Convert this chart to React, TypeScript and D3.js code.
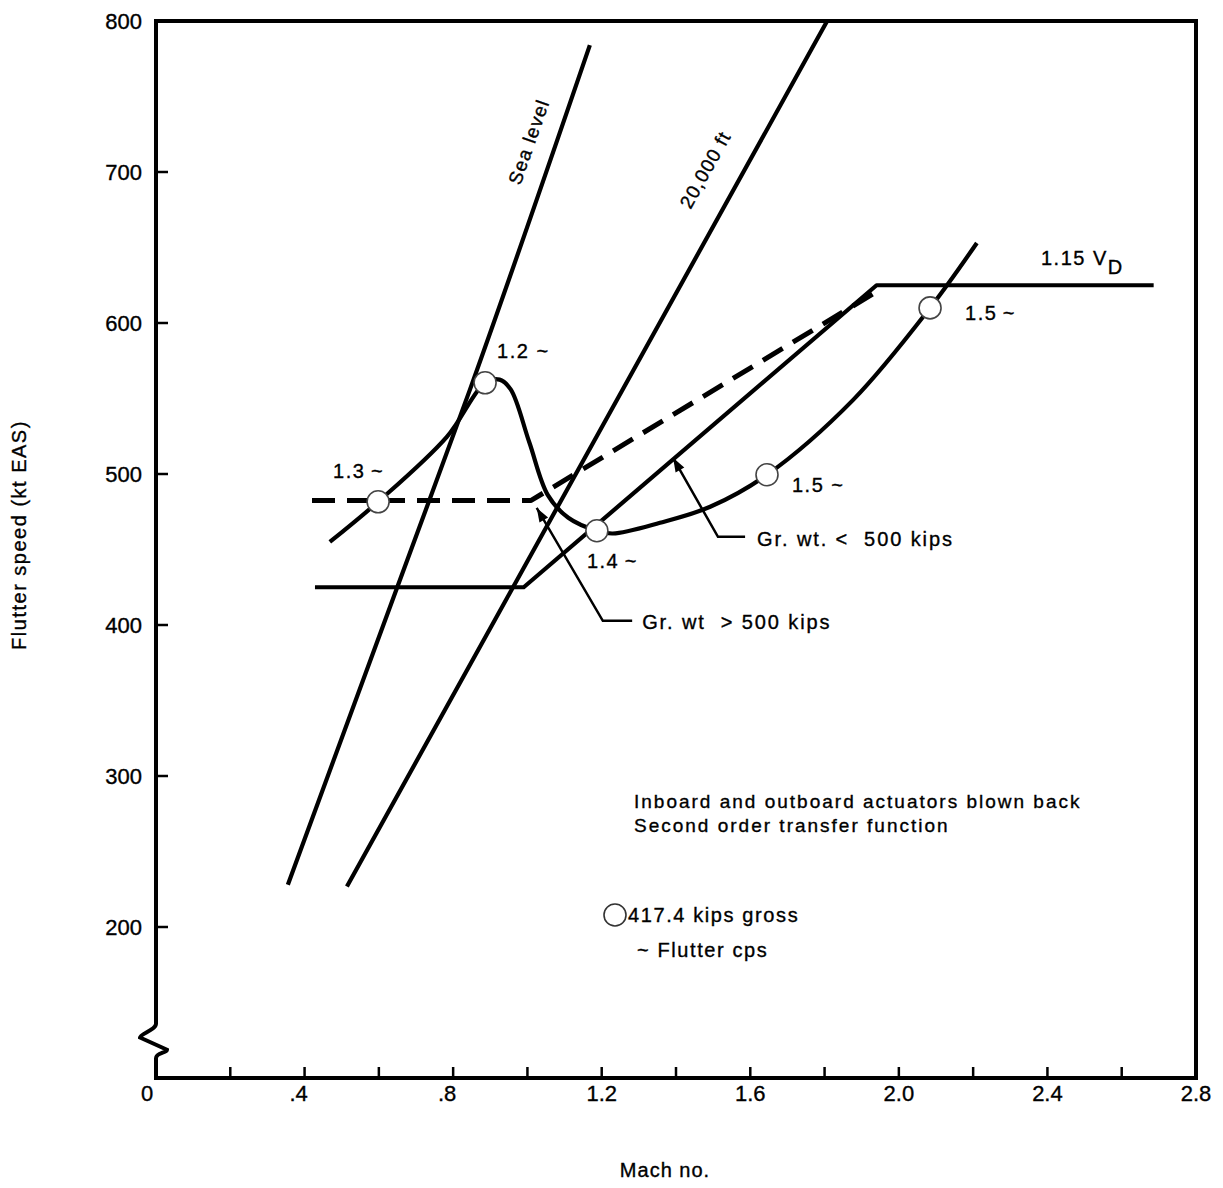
import React from "react";
import * as d3 from "d3";

// ---- Data ----
const xTicksMinor = [0.2, 0.4, 0.6, 0.8, 1.0, 1.2, 1.4, 1.6, 1.8, 2.0, 2.2, 2.4, 2.6];
const xTickLabels = ["0", ".4", ".8", "1.2", "1.6", "2.0", "2.4", "2.8"];
const xTickLabelValues = [0, 0.4, 0.8, 1.2, 1.6, 2.0, 2.4, 2.8];
const yTicks = [200, 300, 400, 500, 600, 700];
const yTickLabels = [200, 300, 400, 500, 600, 700, 800];

const seaLevel: [number, number][] = [
  [0.355, 228], [0.649, 424.7], [0.845, 555.7], [1.168, 784],
];
const alt20k: [number, number][] = [
  [0.514, 226.8], [0.953, 421.4], [1.807, 800],
];
const grWtLess: [number, number][] = [
  [0.428, 425], [0.99, 425], [1.94, 625], [2.686, 625],
];
const grWtMore: [number, number][] = [
  [0.42, 482.5], [1.01, 482.5], [1.935, 620],
];
const flutterCurve: [number, number][] = [
  [0.468, 455], [0.598, 481.6], [0.783, 524.6], [0.886, 560.4], [0.925, 562.5],
  [0.955, 556], [1.005, 521], [1.055, 486], [1.11, 471], [1.187, 462.4], [1.23, 460.6],
  [1.357, 467.7], [1.492, 478.3], [1.645, 499.5], [1.877, 549.1], [2.084, 610], [2.21, 653],
];
const circlePts: [number, number][] = [
  [0.598, 481.6], [0.886, 560.4], [1.187, 462.4], [1.645, 499.5], [2.084, 610],
];
const circleLabels = ["1.3\u2009~", "1.2 ~", "1.4\u2009~", "1.5 ~", "1.5\u2009~"];
const ptrMore: [number, number][] = [[1.025, 477.5], [1.203, 402.8], [1.282, 402.8]];
const ptrLess: [number, number][] = [[1.392, 510.7], [1.513, 458.4], [1.586, 458.4]];

// ---- Layout / style ----
const W = 1223, H = 1188;
const FONT = "'Liberation Sans', Arial, Helvetica, sans-serif";
const labelOffsets: [number, number][] = [[-45, -24], [12, -25], [-10, 37], [25, 17], [35, 12]];

export default function App() {
  const x = d3.scaleLinear().domain([0, 2.8]).range([156, 1196]);
  const y = d3.scaleLinear().domain([100, 800]).range([1078, 21]);
  const lin = d3.line<[number, number]>().x(d => x(d[0])).y(d => y(d[1]));
  const smooth = d3.line<[number, number]>().x(d => x(d[0])).y(d => y(d[1])).curve(d3.curveMonotoneX);
  const cat = d3.line<[number, number]>().x(d => x(d[0])).y(d => y(d[1])).curve(d3.curveCatmullRom.alpha(0.5));

  const x0 = x(0), x1 = x(2.8), yTop = y(800), yBot = y(100);
  const brkTop = y(136), brkBot = y(113);
  const brkH = brkBot - brkTop;
  const leftAxis = `M${x0},${yTop} L${x0},${brkTop} C${x0},${brkTop + 6} ${x0 - 16},${brkTop + brkH * 0.3} ${x0 - 16},${brkTop + brkH * 0.4} L${x0 + 11},${brkTop + brkH * 0.75} C${x0 + 11},${brkTop + brkH * 0.85} ${x0},${brkBot - 6} ${x0},${brkBot} L${x0},${yBot}`;

  const arrowHead = (pts: [number, number][]) => {
    const tx = x(pts[0][0]), ty = y(pts[0][1]);
    const ax = x(pts[1][0]), ay = y(pts[1][1]);
    const ang = Math.atan2(ty - ay, tx - ax);
    const L = 14, Wd = 5;
    const bx = tx - L * Math.cos(ang), by = ty - L * Math.sin(ang);
    const px = -Math.sin(ang) * Wd, py = Math.cos(ang) * Wd;
    return `M${tx},${ty} L${bx + px},${by + py} L${bx - px},${by - py} Z`;
  };

  const txt = { fontFamily: FONT, fill: "#000", stroke: "#000", strokeWidth: 0.35 } as const;

  return (
    <div style={{ position: "absolute", left: 0, top: 0 }}>
      <svg width={W} height={H} viewBox={`0 0 ${W} ${H}`} style={{ display: "block", background: "#fff" }}>
        {/* frame */}
        <g stroke="#000" strokeWidth={4} fill="none" strokeLinejoin="miter">
          <path d={leftAxis} />
          <line x1={x0 - 2} y1={yBot} x2={x1 + 2} y2={yBot} />
          <line x1={x0 - 2} y1={yTop} x2={x1 + 2} y2={yTop} />
          <line x1={x1} y1={yTop} x2={x1} y2={yBot} />
        </g>
        {/* ticks */}
        <g stroke="#000" strokeWidth={2.5}>
          {xTicksMinor.map(t => (
            <line key={t} x1={x(t)} x2={x(t)} y1={yBot} y2={yBot - 11} />
          ))}
          {yTicks.map(t => (
            <line key={t} x1={x0} x2={x0 + 12} y1={y(t)} y2={y(t)} />
          ))}
        </g>
        {/* tick labels */}
        <g {...txt} fontSize={22}>
          {yTickLabels.map(t => (
            <text key={t} x={x0 - 14} y={y(t)} dy="0.36em" textAnchor="end">{t}</text>
          ))}
          {xTickLabelValues.map((v, i) => (
            <text key={v} x={x(v) - (i === 0 ? 9 : i < 3 ? 6 : 0)} y={1101} textAnchor="middle">{xTickLabels[i]}</text>
          ))}
        </g>
        {/* axis titles */}
        <text {...txt} x={665} y={1177} fontSize={20} letterSpacing={1} textAnchor="middle">Mach no.</text>
        <text {...txt} transform="translate(26,535) rotate(-90)" fontSize={20} letterSpacing={1.5} textAnchor="middle">Flutter speed (kt EAS)</text>

        {/* curves */}
        <g fill="none" stroke="#000" strokeWidth={4.2} strokeLinejoin="round" strokeLinecap="butt">
          <path d={smooth(seaLevel) || ""} />
          <path d={smooth(alt20k) || ""} />
          <path d={lin(grWtLess) || ""} />
          <path d={lin(grWtMore) || ""} strokeDasharray="23 12" strokeWidth={5} />
          <path d={cat(flutterCurve) || ""} />
        </g>

        {/* pointers */}
        <g fill="none" stroke="#000" strokeWidth={2.5}>
          <path d={lin(ptrMore) || ""} />
          <path d={lin(ptrLess) || ""} />
        </g>
        <path d={arrowHead(ptrMore)} fill="#000" />
        <path d={arrowHead(ptrLess)} fill="#000" />

        {/* circles */}
        {circlePts.map((p, i) => (
          <circle key={i} cx={x(p[0])} cy={y(p[1])} r={11} fill="#fff" stroke="#444" strokeWidth={1.6} />
        ))}
        <g {...txt} fontSize={20} letterSpacing={1.5}>
          {circlePts.map((p, i) => (
            <text key={i} x={x(p[0]) + labelOffsets[i][0]} y={y(p[1]) + labelOffsets[i][1]}>{circleLabels[i]}</text>
          ))}
          <text x={x(ptrMore[2][0]) + 10} y={y(ptrMore[2][1]) + 8} letterSpacing={1.9}>Gr. wt&#160;&#160;&gt; 500 kips</text>
          <text x={x(ptrLess[2][0]) + 12} y={y(ptrLess[2][1]) + 9} letterSpacing={1.9}>Gr. wt. &lt;&#160; 500 kips</text>
          <text x={1041} y={265}>1.15 V<tspan dy={9}>D</tspan></text>
          <text transform="translate(535,144) rotate(-70.5)" textAnchor="middle" fontSize={19} letterSpacing={1.2}>Sea level</text>
          <text transform="translate(711,173) rotate(-61)" textAnchor="middle" fontSize={19} letterSpacing={1.2}>20,000 ft</text>
          <text x={634} y={808} fontSize={19} letterSpacing={2}>Inboard and outboard actuators blown back</text>
          <text x={634} y={832} fontSize={19} letterSpacing={2}>Second order transfer function</text>
          <circle cx={615} cy={915} r={11} fill="#fff" stroke="#333" strokeWidth={1.6} />
          <text x={628} y={922} fontSize={20} letterSpacing={1.6}>417.4 kips gross</text>
          <text x={637} y={957} fontSize={20} letterSpacing={1.6}>~ Flutter cps</text>
        </g>
      </svg>
    </div>
  );
}
